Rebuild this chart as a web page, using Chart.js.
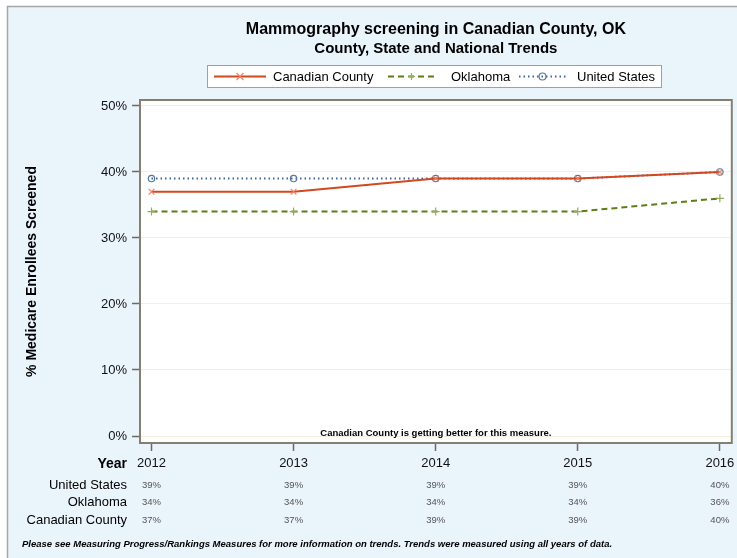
<!DOCTYPE html>
<html>
<head>
<meta charset="utf-8">
<script src="https://cdn.jsdelivr.net/npm/chart.js@4/dist/chart.umd.min.js"></script>
<style>
  html, body { margin: 0; padding: 0; background: #fff; }
  #wrap { width: 737px; height: 558px; position: relative; }
</style>
</head>
<body>
<div id="wrap"><canvas id="chart" width="737" height="558"></canvas></div>
<script>
const years = [2012, 2013, 2014, 2015, 2016];
const canadianCounty = [37, 37, 39, 39, 40];
const oklahoma = [34, 34, 34, 34, 36];
const unitedStates = [39, 39, 39, 39, 40];
const yTicks = [0, 10, 20, 30, 40, 50];

const tableRows = [
    { label: 'United States', values: unitedStates },
    { label: 'Oklahoma', values: oklahoma },
    { label: 'Canadian County', values: canadianCounty }
];

const FONT = '"Liberation Sans", Arial, sans-serif';

function toPoints(vals) {
    return years.map((yr, i) => ({ x: yr, y: vals[i] }));
}

// background, outer border and white plot area
const backdrop = {
    id: 'backdrop',
    beforeDraw(chart) {
        const ctx = chart.ctx;
        const a = chart.chartArea;
        ctx.save();
        ctx.fillStyle = '#ffffff';
        ctx.fillRect(0, 0, chart.width, chart.height);
        ctx.fillStyle = '#eaf4fb';
        ctx.fillRect(7, 6, chart.width - 7, chart.height - 6);
        ctx.strokeStyle = '#a6a6a6';
        ctx.lineWidth = 1.5;
        ctx.beginPath();
        ctx.moveTo(7.5, chart.height);
        ctx.lineTo(7.5, 6.5);
        ctx.lineTo(chart.width, 6.5);
        ctx.stroke();
        ctx.fillStyle = '#ffffff';
        ctx.fillRect(a.left, a.top, a.right - a.left, a.bottom - a.top);
        ctx.restore();
    }
};

function drawMarker(ctx, style, x, y, r, color) {
    ctx.strokeStyle = color;
    ctx.lineWidth = 1.2;
    ctx.setLineDash([]);
    ctx.beginPath();
    if (style === 'crossRot') {
        ctx.moveTo(x - r, y - r); ctx.lineTo(x + r, y + r);
        ctx.moveTo(x - r, y + r); ctx.lineTo(x + r, y - r);
    } else if (style === 'cross') {
        ctx.moveTo(x - r, y); ctx.lineTo(x + r, y);
        ctx.moveTo(x, y - r); ctx.lineTo(x, y + r);
    } else {
        ctx.arc(x, y, r, 0, Math.PI * 2);
    }
    ctx.stroke();
}

// titles, legend, frame, table and notes
const decorations = {
    id: 'decorations',
    afterDraw(chart) {
        const ctx = chart.ctx;
        const a = chart.chartArea;
        const xs = chart.scales.x;
        const cx = (a.left + a.right) / 2;
        ctx.save();

        // frame
        ctx.strokeStyle = '#857f72';
        ctx.lineWidth = 2;
        ctx.strokeRect(a.left, a.top, a.right - a.left, a.bottom - a.top);

        // titles
        ctx.fillStyle = '#000';
        ctx.textAlign = 'center';
        ctx.textBaseline = 'middle';
        ctx.font = 'bold 16px ' + FONT;
        ctx.fillText('Mammography screening in Canadian County, OK', cx, 30);
        ctx.font = 'bold 15px ' + FONT;
        ctx.fillText('County, State and National Trends', cx, 49);

        // legend box
        ctx.fillStyle = '#fff';
        ctx.fillRect(207, 65, 454, 22);
        ctx.strokeStyle = '#a0a0a0';
        ctx.lineWidth = 1;
        ctx.strokeRect(207.5, 65.5, 454, 22);
        const items = [
            { ds: 0, x0: 214, x1: 266, tx: 273 },
            { ds: 1, x0: 388, x1: 435, tx: 451 },
            { ds: 2, x0: 519, x1: 566, tx: 577 }
        ];
        ctx.font = '13px ' + FONT;
        ctx.textAlign = 'left';
        items.forEach(it => {
            const ds = chart.data.datasets[it.ds];
            ctx.strokeStyle = ds.borderColor;
            ctx.lineWidth = ds.borderWidth;
            ctx.setLineDash(ds.borderDash || []);
            ctx.beginPath();
            ctx.moveTo(it.x0, 76.5);
            ctx.lineTo(it.x1, 76.5);
            ctx.stroke();
            drawMarker(ctx, ds.pointStyle, (it.x0 + it.x1) / 2, 76.5, 3.5, ds.pointBorderColor);
            ctx.fillStyle = '#000';
            ctx.fillText(ds.label, it.tx, 77);
        });

        // trend note inside the plot
        ctx.font = 'bold 9.5px ' + FONT;
        ctx.textAlign = 'center';
        ctx.fillStyle = '#000';
        ctx.fillText('Canadian County is getting better for this measure.', cx, 433);

        // table under the axis
        ctx.textAlign = 'right';
        ctx.font = 'bold 14px ' + FONT;
        ctx.fillText('Year', 127, 464);
        const rowY = [485, 502, 520];
        tableRows.forEach((row, r) => {
            ctx.textAlign = 'right';
            ctx.font = '13px ' + FONT;
            ctx.fillStyle = '#000';
            ctx.fillText(row.label, 127, rowY[r]);
            ctx.textAlign = 'center';
            ctx.font = '9.5px ' + FONT;
            ctx.fillStyle = '#555';
            row.values.forEach((v, i) => {
                ctx.fillText(v + '%', xs.getPixelForValue(years[i]), rowY[r]);
            });
        });

        // footnote
        ctx.textAlign = 'left';
        ctx.fillStyle = '#000';
        ctx.font = 'italic bold 9.5px ' + FONT;
        ctx.fillText('Please see Measuring Progress/Rankings Measures for more information on trends. Trends were measured using all years of data.', 22, 544);

        // y axis title
        ctx.translate(32, (a.top + a.bottom) / 2);
        ctx.rotate(-Math.PI / 2);
        ctx.textAlign = 'center';
        ctx.font = 'bold 14px ' + FONT;
        ctx.fillText('% Medicare Enrollees Screened', 0, 0);
        ctx.restore();
    }
};

new Chart(document.getElementById('chart'), {
    type: 'line',
    data: {
        datasets: [
            {
                label: 'Canadian County',
                data: toPoints(canadianCounty),
                borderColor: '#d2481f',
                borderWidth: 2,
                pointStyle: 'crossRot',
                pointRadius: 4,
                pointBorderColor: '#ec8468',
                pointBorderWidth: 1.2
            },
            {
                label: 'Oklahoma',
                data: toPoints(oklahoma),
                borderColor: '#5e7d17',
                borderWidth: 2,
                borderDash: [6, 4],
                pointStyle: 'cross',
                pointRadius: 4,
                pointBorderColor: '#8fae5a',
                pointBorderWidth: 1.2
            },
            {
                label: 'United States',
                data: toPoints(unitedStates),
                borderColor: '#3f66a0',
                borderWidth: 2,
                borderDash: [1.5, 3],
                pointStyle: 'circle',
                pointRadius: 3.2,
                pointBorderColor: '#55779f',
                pointBackgroundColor: 'rgba(0,0,0,0)',
                pointBorderWidth: 1.2
            }
        ]
    },
    options: {
        responsive: false,
        animation: false,
        layout: { padding: { left: 0, top: 100, right: 4, bottom: 0 } },
        plugins: {
            legend: { display: false },
            title: { display: false },
            tooltip: { enabled: false }
        },
        scales: {
            x: {
                type: 'linear',
                min: 2011.919,
                max: 2016.084,
                afterBuildTicks(scale) {
                    scale.ticks = years.map(v => ({ value: v }));
                },
                afterFit(scale) {
                    scale.height = 115;
                    scale.paddingLeft = 0;
                    scale.paddingRight = 0;
                },
                grid: {
                    drawOnChartArea: false,
                    drawTicks: true,
                    tickLength: 8,
                    tickColor: '#6f6a60',
                    tickWidth: 1.5
                },
                border: { display: false },
                ticks: {
                    padding: 5,
                    color: '#111',
                    font: { family: FONT, size: 13 },
                    maxRotation: 0,
                    callback: v => String(v)
                }
            },
            y: {
                min: -1.06,
                max: 50.9,
                afterBuildTicks(scale) {
                    scale.ticks = yTicks.map(v => ({ value: v }));
                },
                afterFit(scale) {
                    scale.width = 140;
                    scale.paddingTop = 0;
                    scale.paddingBottom = 0;
                },
                grid: {
                    color: '#f1f0e0',
                    lineWidth: 1,
                    drawTicks: true,
                    tickLength: 8,
                    tickColor: '#6f6a60',
                    tickWidth: 1.5
                },
                border: { display: false },
                ticks: {
                    padding: 5,
                    color: '#111',
                    font: { family: FONT, size: 13 },
                    callback: v => v + '%'
                }
            }
        }
    },
    plugins: [backdrop, decorations]
});
</script>
</body>
</html>
